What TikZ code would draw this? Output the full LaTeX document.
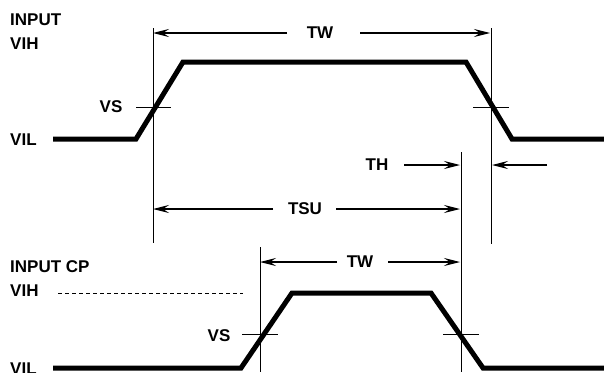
\documentclass[tikz,border=0pt]{standalone}
\usepackage{fontspec}
\setmainfont{Liberation Sans}
\usetikzlibrary{arrows.meta}
\begin{document}
\begin{tikzpicture}[x=1pt,y=-1pt,
  wave/.style={line width=5pt,line join=miter},
  thin/.style={line width=1pt},
  dim/.style={line width=1.2pt,-{Stealth[length=16pt,width=8pt,inset=6pt]}},
  lbl/.style={font=\fontsize{17}{20}\selectfont\bfseries,inner sep=0pt},
  side/.style={lbl,anchor=west}]
\useasboundingbox (0,0) rectangle (604,372);
% top waveform
\coordinate (a0) at (53,139);
\coordinate (a1) at (136,139);
\coordinate (a2) at (183,62);
\coordinate (a3) at (466,62);
\coordinate (a4) at (512,139);
\coordinate (a5) at (604,139);
\draw[wave] (a0) -- (a1) -- (a2) -- (a3) -- (a4) -- (a5);
% bottom waveform
\coordinate (b0) at (53,368);
\coordinate (b1) at (241,368);
\coordinate (b2) at (292,293);
\coordinate (b3) at (431,293);
\coordinate (b4) at (483,368);
\coordinate (b5) at (604,368);
\draw[wave] (b0) -- (b1) -- (b2) -- (b3) -- (b4) -- (b5);
% vertical reference lines
\coordinate (v1t) at (153,28); \coordinate (v1b) at (153,243);
\coordinate (v2t) at (491,28); \coordinate (v2b) at (491,244);
\coordinate (v3t) at (461,152); \coordinate (v3b) at (461,372);
\coordinate (v4t) at (260,247); \coordinate (v4b) at (260,372);
\draw[thin] (v1t) -- (v1b);
\draw[thin] (v2t) -- (v2b);
\draw[thin] (v3t) -- (v3b);
\draw[thin] (v4t) -- (v4b);
% VS ticks
\coordinate (t1a) at (136,107); \coordinate (t1b) at (171,107);
\coordinate (t2a) at (473,107); \coordinate (t2b) at (509,107);
\coordinate (t3a) at (242,334); \coordinate (t3b) at (278,334);
\coordinate (t4a) at (443,334); \coordinate (t4b) at (479,334);
\draw[thin] (t1a) -- (t1b);
\draw[thin] (t2a) -- (t2b);
\draw[thin] (t3a) -- (t3b);
\draw[thin] (t4a) -- (t4b);
% dashed VIH reference
\coordinate (d0) at (58,293); \coordinate (d1) at (243,293);
\draw[thin,dash pattern=on 4pt off 3pt] (d0) -- (d1);
% labels
\node[side] (input) at (10,20) {INPUT};
\node[side] (vih1) at (10,44) {VIH};
\node[lbl] (vs1) at (111,107) {VS};
\node[side] (vil1) at (10,140) {VIL};
\node[lbl] (tw1) at (320,33) {TW};
\node[lbl] (th) at (377,165) {TH};
\node[lbl] (tsu) at (305,209) {TSU};
\node[side] (inputcp) at (10,267) {INPUT CP};
\node[side] (vih2) at (10,291) {VIH};
\node[lbl] (vs2) at (219,336) {VS};
\node[side] (vil2) at (10,369) {VIL};
\node[lbl] (tw2) at (360,262) {TW};
% dimension arrows
\coordinate (tw1l) at (153,33); \coordinate (tw1r) at (490,33);
\draw[dim] (287,33) -- (tw1l);
\draw[dim] (360,33) -- (tw1r);
\coordinate (tsul) at (153,209); \coordinate (tsur) at (460,209);
\draw[dim] (273,209) -- (tsul);
\draw[dim] (336,209) -- (tsur);
\coordinate (thl) at (460,165); \coordinate (thr) at (492,165);
\draw[dim] (404,165) -- (thl);
\draw[dim] (547,165) -- (thr);
\coordinate (tw2l) at (260,262); \coordinate (tw2r) at (460,262);
\draw[dim] (337,262) -- (tw2l);
\draw[dim] (388,262) -- (tw2r);
\end{tikzpicture}
\end{document}
